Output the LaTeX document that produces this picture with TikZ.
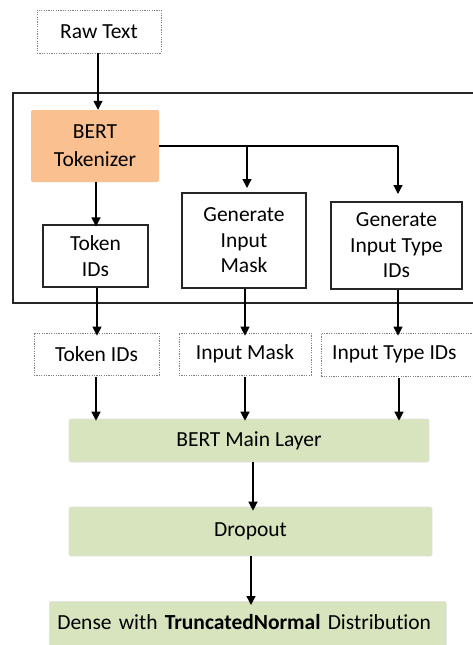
\documentclass[tikz,border=0pt]{standalone}
\usepackage{fontspec}
\setmainfont{Carlito}[Ligatures=NoCommon]
\usetikzlibrary{arrows.meta}
\definecolor{tokorange}{HTML}{FAC090}
\definecolor{laygreen}{HTML}{D7E4BD}
\tikzset{
  base/.style={inner sep=0pt, align=center, font=\fontsize{21.5}{25.5}\selectfont},
  dashbox/.style={base, draw=gray, dashed, dash pattern=on 1.2pt off 1.2pt, line width=0.7pt},
  solidbox/.style={base, draw=black!85, line width=1.1pt},
  orangebox/.style={base, fill=tokorange, rounded corners=1.5pt, font=\fontsize{21.5}{28}\selectfont},
  greenbox/.style={base, fill=laygreen, draw=black!12, line width=0.6pt, rounded corners=1.5pt},
  arr/.style={-{Triangle[length=9pt,width=9pt]}, line width=1.3pt, black}
}
\begin{document}
\begin{tikzpicture}[x=1pt,y=-1pt]
\useasboundingbox (0,0) rectangle (473,645);
% outer frame
\draw[black!85, line width=1.1pt] (480,93) -- (13,93) -- (13,303) -- (480,303);
% nodes
\node[dashbox, minimum width=124pt, minimum height=43pt] (raw) at (99,31.5) {Raw Text};
\node[orangebox, minimum width=128pt, minimum height=72pt] (tok) at (95,146) {BERT\\Tokenizer};
\node[solidbox, minimum width=105pt, minimum height=62pt] (tid) at (95.5,256) {Token\\IDs};
\node[solidbox, minimum width=124pt, minimum height=95pt] (gim) at (244,240.5) {Generate\\Input\\Mask};
\node[solidbox, minimum width=131pt, minimum height=87pt] (git) at (396.5,245.5) {Generate\\Input Type\\IDs};
\node[dashbox, minimum width=125pt, minimum height=42pt] (otid) at (96.5,354) {Token IDs};
\node[dashbox, minimum width=132pt, minimum height=42pt] (oim) at (245,354) {Input Mask};
\node[dashbox, minimum width=158pt, minimum height=43pt, anchor=west] (oit) at (321,354.5) {\hspace*{-12pt}Input Type IDs};
\node[greenbox, minimum width=360pt, minimum height=43pt] (bml) at (249,440.5) {BERT Main Layer};
\node[greenbox, minimum width=363pt, minimum height=49pt] (drop) at (250.5,531.5) {Dropout};
\node[greenbox, minimum width=397pt, minimum height=60pt, anchor=north west, text width=385pt, align=left, text depth=18pt] (dense) at (49,601) {\hspace*{2pt}Dense with \textbf{TruncatedNormal} Distribution};
% junctions
\coordinate (j) at (398,146);
% connectors
\draw[arr] (raw.south -| 98,0) -- (tok.north -| 98,0);
\draw[arr] (tok.south -| 96,0) -- ([yshift=-2pt]tid.north -| 96,0);
\draw[line width=1.3pt] (tok.east |- 0,146) -- (j);
\draw[arr] (247,146) -- (247,188);
\draw[arr] (j) -- (398,194);
\draw[arr] (tid.south -| 97,0) -- ([yshift=-3pt]otid.north -| 97,0);
\draw[arr] (gim.south -| 245,0) -- ([yshift=-3pt]oim.north -| 245,0);
\draw[arr] (git.south -| 398,0) -- ([yshift=-3pt]oit.north -| 398,0);
\draw[arr] ([yshift=-2pt]otid.south -| 96,0) -- ([yshift=-2pt]bml.north -| 96,0);
\draw[arr] ([yshift=-2pt]oim.south -| 245,0) -- ([yshift=-2pt]bml.north -| 245,0);
\draw[arr] ([yshift=-2pt]oit.south -| 399,0) -- ([yshift=-2pt]bml.north -| 399,0);
\draw[arr] (bml.south -| 253,0) -- ([yshift=-4pt]drop.north -| 253,0);
\draw[arr] (drop.south -| 251,0) -- ([yshift=-4pt]dense.north -| 251,0);
\end{tikzpicture}
\end{document}
